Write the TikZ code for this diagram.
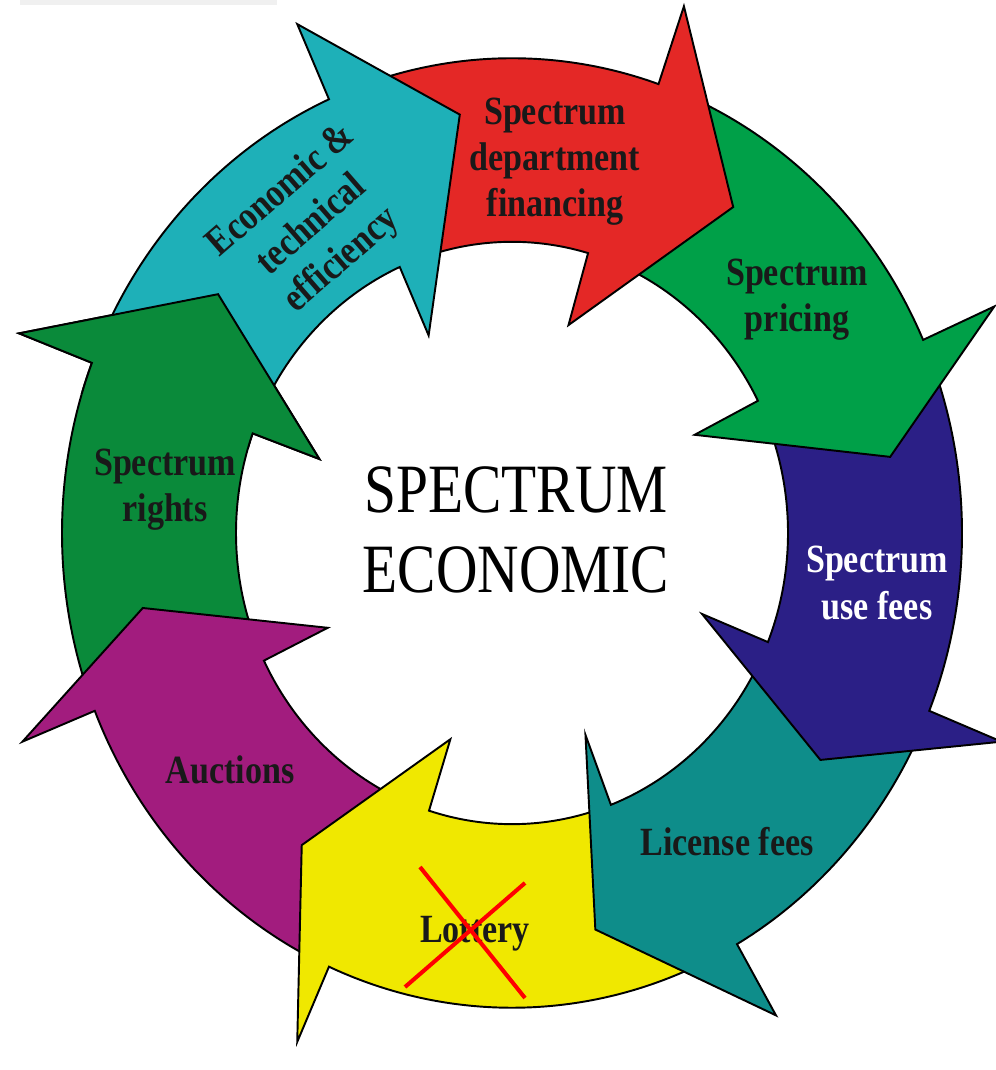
\documentclass[tikz,border=0pt]{standalone}
\usepackage{fontspec}
\setmainfont{Liberation Serif}
\newfontfamily\lblfont[FakeStretch=0.85]{Liberation Serif}
\newfontfamily\ctrfont[FakeStretch=0.83]{Liberation Serif}
\definecolor{ecocyan}{RGB}{30,176,184}
\definecolor{deptred}{RGB}{228,40,38}
\definecolor{pricegreen}{RGB}{0,160,72}
\definecolor{feeblue}{RGB}{43,31,134}
\definecolor{licteal}{RGB}{14,141,138}
\definecolor{lotyellow}{RGB}{240,232,0}
\definecolor{aucpurple}{RGB}{162,28,126}
\definecolor{rightgreen}{RGB}{10,138,58}
% one arrow of the ring: outer tail, inner tail, outer base, inner base, tip (angle:radius), colour
\newcommand{\ringarrow}[6]{%
  \filldraw[fill=#6, draw=black, line width=1.1pt, line join=miter]
    (#1:450) arc[start angle=#1, end angle=#3, radius=450]
    -- (#3:528) -- (#5) -- (#4:205) -- (#4:276)
    arc[start angle=#4, end angle=#2, radius=276] -- cycle;}
\tikzset{
  lbl/.style={inner sep=0pt, align=center, text=black!90,
    font=\lblfont\bfseries\fontsize{22.8}{26.2}\selectfont},
}
\begin{document}
\begin{tikzpicture}[x=0.02cm, y=0.02cm]
  \useasboundingbox (0,0) rectangle (995,1070);
  \fill[black!6] (20,1065) rectangle (277,1070);
  % 画箭头环
  \begin{scope}[shift={(512,537)}, yscale=1.055]
    \foreach \ao/\ai/\bo/\bi/\c/\col in {
        -161/-157/-201/-200/-217.6:371/rightgreen,
        -117/-110.5/-158/-154/-169.1:376/aucpurple,
        -63/-71/-114/-107.5/-125.4:363/lotyellow,
        -25/-25/-60/-69/-77.5:385/licteal,
        21/24/-22/-22/-34.9:376/feeblue,
        68/71/24/27/10.8:385/pricegreen,
        111/111/71/74/54.4:380/deptred,
        156/157/114/114/97.5:400/ecocyan} {
      \ringarrow{\ao}{\ai}{\bo}{\bi}{\c}{\col}
    }
    % 最后一个箭头头部压在第一个上面
    \begin{scope}
      \clip (0,0) -- (-197:700) -- (-211:700) -- (-225:700) -- cycle;
      \ringarrow{-161}{-157}{-201}{-200}{-217.6:371}{rightgreen}
    \end{scope}
  \end{scope}
  % 标签
  \node[lbl, rotate=41] (econ) at (312,844) {Economic \&\\technical\\efficiency};
  \node[lbl] (dept) at (555,908) {Spectrum\\department\\financing};
  \node[lbl] (pricing) at (797,770) {Spectrum\\pricing};
  \node[lbl, text=white] (usefees) at (877,487) {Spectrum\\use fees};
  \node[lbl] (license) at (727,228) {License fees};
  \node[lbl] (lottery) at (475,136) {Lottery};
  \node[lbl] (auctions) at (230,300) {Auctions};
  \node[lbl] (rights) at (165,580) {Spectrum\\rights};
  \node[inner sep=0pt, align=center, font=\ctrfont\fontsize{39.4}{45.4}\selectfont]
    (centre) at (516,540) {SPECTRUM\\ECONOMIC};
  % 红叉
  \draw[red, line width=2.3pt] (420,203) -- (525,72);
  \draw[red, line width=2.3pt] (405,83) -- (525,187);
\end{tikzpicture}
\end{document}
